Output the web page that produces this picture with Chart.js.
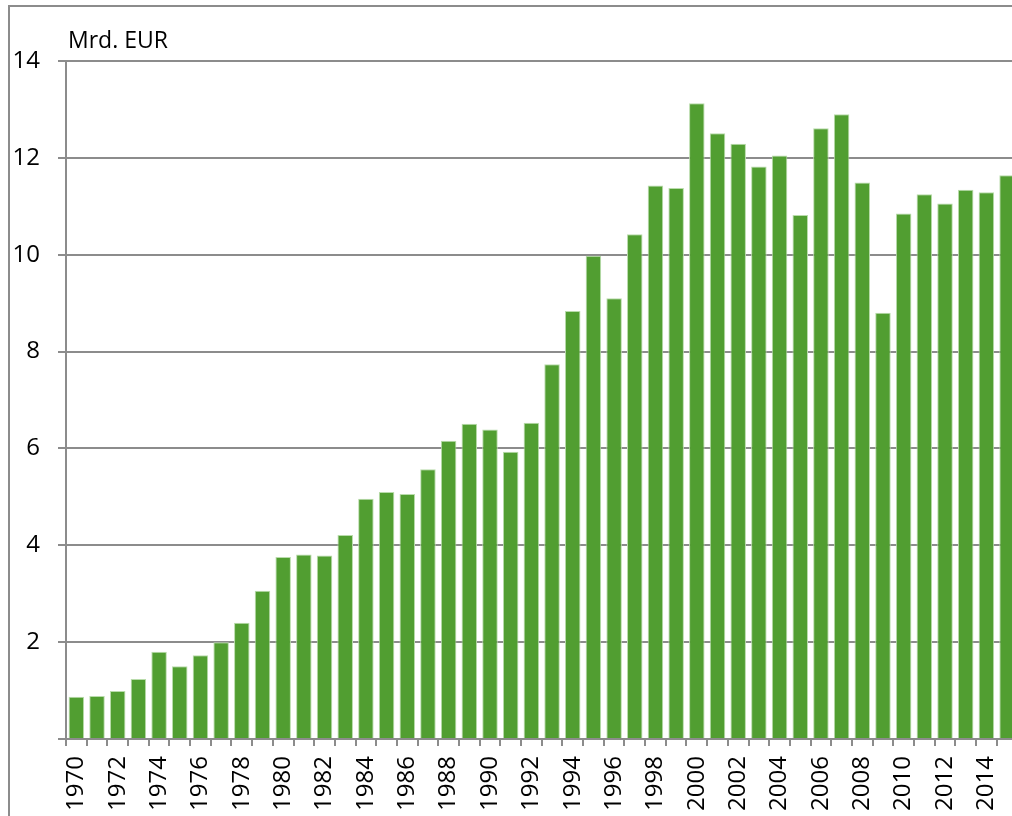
<!DOCTYPE html>
<html>
<head>
<meta charset="utf-8">
<script src="https://cdn.jsdelivr.net/npm/chart.js@4"></script>
<style>
  html, body { margin: 0; overflow: hidden; background: #fff; }
  #wrap { position: relative; width: 1012px; height: 816px; overflow: hidden; }
  #frame {
    position: absolute; left: 8px; top: 5px; width: 1100px; height: 900px;
    border-top: 2px solid #8c8c8c; border-left: 2px solid #8c8c8c;
  }
  #chart { position: absolute; left: 0; top: 0; }
</style>
</head>
<body>
<div id="wrap">
  <div id="frame"></div>
  <canvas id="chart" width="1046" height="816"></canvas>
</div>
<script>
// Data
const years = ['1970','1971','1972','1973','1974','1975','1976','1977','1978','1979',
  '1980','1981','1982','1983','1984','1985','1986','1987','1988','1989',
  '1990','1991','1992','1993','1994','1995','1996','1997','1998','1999',
  '2000','2001','2002','2003','2004','2005','2006','2007','2008','2009',
  '2010','2011','2012','2013','2014','2015'];
const amounts = [0.87, 0.89, 0.99, 1.24, 1.80, 1.50, 1.73, 2.00, 2.40, 3.06,
  3.76, 3.81, 3.79, 4.21, 4.96, 5.10, 5.06, 5.57, 6.16, 6.51,
  6.39, 5.93, 6.53, 7.74, 8.84, 9.98, 9.10, 10.42, 11.43, 11.38,
  13.13, 12.51, 12.29, 11.82, 12.05, 10.82, 12.61, 12.90, 11.49, 8.80,
  10.85, 11.25, 11.06, 11.34, 11.29, 11.64];
const yTicks = [0, 2, 4, 6, 8, 10, 12, 14];
const unitLabel = 'Mrd. EUR';

const gray = '#8c8c8c';
const font = { family: '"Open Sans", sans-serif', size: 24 };
Chart.defaults.color = '#000';

// unit text above the plot, aligned to the y axis
const unitPlugin = {
  id: 'unit',
  afterDraw(chart) {
    const ctx = chart.ctx;
    ctx.save();
    ctx.font = '23px "Open Sans", sans-serif';
    ctx.fillStyle = '#000';
    ctx.textBaseline = 'alphabetic';
    ctx.fillText(unitLabel, chart.chartArea.left + 2, 48);
    ctx.restore();
  }
};

new Chart(document.getElementById('chart'), {
  type: 'bar',
  data: {
    labels: years,
    datasets: [{
      data: amounts,
      backgroundColor: '#519e31',
      borderColor: '#b9dcab',
      borderWidth: 1,
      barPercentage: 0.75,
      categoryPercentage: 1
    }]
  },
  options: {
    responsive: false,
    animation: false,
    layout: { padding: { top: 61, right: 12, left: 0, bottom: 0 } },
    plugins: { legend: { display: false }, tooltip: { enabled: false } },
    scales: {
      x: {
        afterFit: (s) => { s.height = 77; },
        grid: { offset: true, drawOnChartArea: false, drawTicks: true, tickLength: 7, color: gray, lineWidth: 2 },
        border: { display: true, color: gray, width: 2 },
        ticks: {
          autoSkip: false, maxRotation: 90, minRotation: 90, padding: 10, font: font,
          callback: (v, i) => (i % 2 === 0 ? years[i] : '')
        }
      },
      y: {
        min: 0, max: 14,
        afterFit: (s) => { s.width = 66; },
        afterBuildTicks: (s) => { s.ticks = yTicks.map(v => ({ value: v })); },
        grid: { color: gray, lineWidth: 2, tickLength: 8 },
        border: { display: true, color: gray, width: 2 },
        ticks: { padding: 18, font: font, callback: (v) => (v === 0 ? '' : v) }
      }
    }
  },
  plugins: [unitPlugin]
});
</script>
</body>
</html>
